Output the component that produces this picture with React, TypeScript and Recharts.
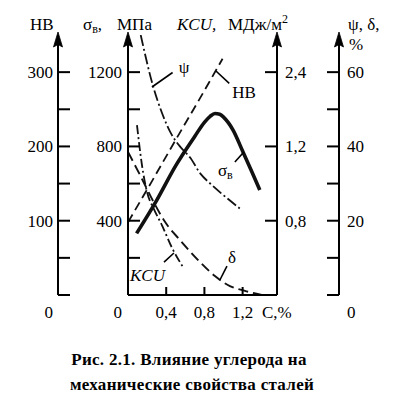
import React from 'react';
import { ComposedChart, Line, XAxis, YAxis, ReferenceLine, ReferenceDot } from 'recharts';

const FONT = '"Liberation Serif", "Times New Roman", Tinos, "DejaVu Serif", serif';

// ---- axis ticks ----
const C_TICKS = [0.4, 0.8, 1.2];
const C_TICK_LABELS = ['0,4', '0,8', '1,2'];
const HB_TICKS = [0, 50, 100, 150, 200, 250, 300];
const HB_TICK_LABELS = ['0', '', '100', '', '200', '', '300'];
const SIGMA_TICKS = [0, 200, 400, 600, 800, 1000, 1200];
const SIGMA_TICK_LABELS = ['0', '', '400', '', '800', '', '1200'];
const KCU_TICKS = [0.8, 1.6, 2.4];
const KCU_TICK_LABELS = ['0,8', '1,2', '2,4'];
const PSI_TICKS = [0, 10, 20, 30, 40, 50, 60];
const PSI_TICK_LABELS = ['0', '', '20', '', '40', '', '60'];

// ---- series ----
const HB_C = [0, 0.25, 0.5, 0.75, 0.99];
const HB_VALUES = [98, 153, 209, 264, 318];

const SIGMA_C = [0.09, 0.3, 0.5, 0.7, 0.8, 0.86, 0.91, 0.96, 1.0, 1.05, 1.1, 1.2, 1.3, 1.38];
const SIGMA_VALUES = [332, 510, 697, 855, 930, 962, 977, 973, 958, 928, 888, 775, 660, 565];

const PSI_C = [0.133, 0.265, 0.356, 0.45, 0.55, 0.65, 0.76, 0.87, 0.98, 1.17];
const PSI_VALUES = [70, 56, 49, 43.5, 39.8, 37, 32.6, 29.8, 27.3, 23.3];

const KCU_C = [0.094, 0.146, 0.199, 0.269, 0.356, 0.46, 0.582];
const KCU_VALUES = [1.83, 1.4, 1.11, 0.93, 0.75, 0.51, 0.29];

const DELTA_C = [0, 0.126, 0.269, 0.387, 0.544, 0.753, 0.91, 1.067, 1.224, 1.4];
const DELTA_VALUES = [38.5, 32.3, 25, 19.7, 14.8, 8.9, 5.1, 2.4, 1.1, 0];

const toData = (xs: number[], ys: number[]) => xs.map((c, i) => ({ c, v: ys[i] }));

// ---- annotations (data coordinates) ----
const LEADERS = [
  { axis: 'b_psi', from: [0.251, 56.0], to: [0.467, 59.9] },
  { axis: 'b_hb', from: [0.921, 301.5], to: [1.06, 284.9] },
  { axis: 'a_sigma', from: [1.119, 716], to: [1.213, 770] },
  { axis: 'a_kcu', from: [0.377, 0.355], to: [0.481, 0.452] },
  { axis: 'b_psi', from: [0.962, 4.04], to: [1.036, 7.8] },
];

const AXIS_LINE = { stroke: '#000', strokeWidth: 2 };

const arrowLabel = (side: 'left' | 'right') => (props: any) => {
  const vb = props.viewBox || {};
  const lx = side === 'left' ? vb.x + vb.width : vb.x;
  const y = vb.y;
  return (
    <path
      d={`M${lx} ${y - 3} L${lx + 4.5} ${y + 12} L${lx} ${y + 9.5} L${lx - 4.5} ${y + 12} Z`}
      fill="#000"
      stroke="#000"
      strokeWidth={0.8}
      strokeLinejoin="round"
    />
  );
};

const makeLeftTick = (ticks: number[], labels: string[], zeroTick: boolean, gap: number) => (props: any) => {
  const { x, y, payload } = props;
  const i = ticks.indexOf(payload.value);
  const label = i >= 0 ? labels[i] : '';
  const isZero = payload.value === 0;
  return (
    <g>
      {(!isZero || zeroTick) && <line x1={x} x2={x + 12} y1={y} y2={y} stroke="#000" strokeWidth={2} />}
      {label && (
        <text x={x - gap} y={isZero ? y + 23 : y + 6} textAnchor="end" fontSize={17} style={{ fontFamily: FONT }} fill="#000">
          {label}
        </text>
      )}
    </g>
  );
};

const makeRightTick = (ticks: number[], labels: string[]) => (props: any) => {
  const { x, y, payload } = props;
  const i = ticks.indexOf(payload.value);
  const label = i >= 0 ? labels[i] : '';
  const isZero = payload.value === 0;
  return (
    <g>
      <line x1={x - 12} x2={x} y1={y} y2={y} stroke="#000" strokeWidth={2} />
      {label && (
        <text x={x + 8} y={isZero ? y + 23 : y + 6} textAnchor="start" fontSize={17} style={{ fontFamily: FONT }} fill="#000">
          {label}
        </text>
      )}
    </g>
  );
};

const XTick = (props: any) => {
  const { x, y, payload } = props;
  const i = C_TICKS.indexOf(payload.value);
  const label = i >= 0 ? C_TICK_LABELS[i] : '';
  return (
    <g>
      <line x1={x} x2={x} y1={y} y2={y - 8} stroke="#000" strokeWidth={2} />
      <text x={x} y={y + 23} textAnchor="middle" fontSize={17} style={{ fontFamily: FONT }} fill="#000">
        {label}
      </text>
    </g>
  );
};

const textShape = (content: React.ReactNode, anchor: string, dy: number, italic = false) => (p: any) => (
  <text
    x={p.cx}
    y={p.cy + dy}
    textAnchor={anchor}
    fontSize={17}
    style={{ fontFamily: FONT, fontStyle: italic ? 'italic' : 'normal' }}
    fill="#000"
  >
    {content}
  </text>
);

export default function App() {
  return (
    <div style={{ position: 'absolute', left: 0, top: 0, width: 396, height: 410, background: '#fff', fontFamily: FONT }}>
      <ComposedChart width={396} height={330} margin={{ top: 35, right: 17, bottom: 5, left: 8 }}>
        <XAxis
          type="number"
          dataKey="c"
          domain={[0, 1.56]}
          ticks={C_TICKS}
          interval={0}
          allowDataOverflow
          height={30}
          tickSize={0}
          tickMargin={0}
          tickLine={false}
          axisLine={AXIS_LINE}
          tick={XTick}
        />
        <YAxis
          yAxisId="a_sigma"
          orientation="left"
          type="number"
          domain={[0, 1400]}
          ticks={SIGMA_TICKS}
          interval={0}
          allowDataOverflow
          width={70}
          tickSize={0}
          tickMargin={0}
          tickLine={false}
          axisLine={AXIS_LINE}
          tick={makeLeftTick(SIGMA_TICKS, SIGMA_TICK_LABELS, false, 6)}
          label={arrowLabel('left')}
        />
        <YAxis
          yAxisId="b_hb"
          orientation="left"
          type="number"
          domain={[0, 350]}
          ticks={HB_TICKS}
          interval={0}
          allowDataOverflow
          width={50}
          tickSize={0}
          tickMargin={0}
          tickLine={false}
          axisLine={AXIS_LINE}
          tick={makeLeftTick(HB_TICKS, HB_TICK_LABELS, true, 5)}
          label={arrowLabel('left')}
        />
        <YAxis
          yAxisId="a_kcu"
          orientation="right"
          type="number"
          domain={[0, 2.8]}
          ticks={KCU_TICKS}
          interval={0}
          allowDataOverflow
          width={62}
          tickSize={0}
          tickMargin={0}
          tickLine={false}
          axisLine={AXIS_LINE}
          tick={makeRightTick(KCU_TICKS, KCU_TICK_LABELS)}
          label={arrowLabel('right')}
        />
        <YAxis
          yAxisId="b_psi"
          orientation="right"
          type="number"
          domain={[0, 70]}
          ticks={PSI_TICKS}
          interval={0}
          allowDataOverflow
          width={40}
          tickSize={0}
          tickMargin={0}
          tickLine={false}
          axisLine={AXIS_LINE}
          tick={makeRightTick(PSI_TICKS, PSI_TICK_LABELS)}
          label={arrowLabel('right')}
        />

        <Line
          yAxisId="b_psi"
          data={toData(PSI_C, PSI_VALUES)}
          dataKey="v"
          type="monotone"
          stroke="#111"
          strokeWidth={1.8}
          strokeDasharray="11 3 2 3"
          dot={false}
          isAnimationActive={false}
        />
        <Line
          yAxisId="b_hb"
          data={toData(HB_C, HB_VALUES)}
          dataKey="v"
          type="linear"
          stroke="#111"
          strokeWidth={1.8}
          strokeDasharray="9 5"
          dot={false}
          isAnimationActive={false}
        />
        <Line
          yAxisId="a_sigma"
          data={toData(SIGMA_C, SIGMA_VALUES)}
          dataKey="v"
          type="monotone"
          stroke="#111"
          strokeWidth={3.6}
          dot={false}
          isAnimationActive={false}
        />
        <Line
          yAxisId="a_kcu"
          data={toData(KCU_C, KCU_VALUES)}
          dataKey="v"
          type="monotone"
          stroke="#111"
          strokeWidth={1.8}
          strokeDasharray="9 3 2 3"
          dot={false}
          isAnimationActive={false}
        />
        <Line
          yAxisId="b_psi"
          data={toData(DELTA_C, DELTA_VALUES)}
          dataKey="v"
          type="monotone"
          stroke="#111"
          strokeWidth={1.9}
          strokeDasharray="10 5"
          dot={false}
          isAnimationActive={false}
        />

        {LEADERS.map((l, i) => (
          <ReferenceLine
            key={'ld' + i}
            yAxisId={l.axis}
            segment={[
              { x: l.from[0], y: l.from[1] },
              { x: l.to[0], y: l.to[1] },
            ]}
            stroke="#000"
            strokeWidth={1.6}
            ifOverflow="visible"
          />
        ))}

        <ReferenceDot yAxisId="b_psi" x={0.586} y={61.4} r={1} ifOverflow="visible" shape={textShape('ψ', 'middle', 6)} />
        <ReferenceDot yAxisId="b_hb" x={1.214} y={273} r={1} ifOverflow="visible" shape={textShape('HB', 'middle', 6)} />
        <ReferenceDot
          yAxisId="a_sigma"
          x={0.941}
          y={641}
          r={1}
          ifOverflow="visible"
          shape={textShape(
            <>
              σ<tspan fontSize={12} dy={3}>в</tspan>
            </>,
            'start',
            0
          )}
        />
        <ReferenceDot yAxisId="a_kcu" x={0.021} y={0.15} r={1} ifOverflow="visible" shape={textShape('KCU', 'start', 0, true)} />
        <ReferenceDot yAxisId="b_psi" x={1.088} y={10.2} r={1} ifOverflow="visible" shape={textShape('δ', 'middle', 6)} />
      </ComposedChart>

      <svg
        width={396}
        height={410}
        style={{ position: 'absolute', left: 0, top: 0, pointerEvents: 'none', fontFamily: FONT }}
        fontSize={17}
        fill="#000"
      >
        <text x={30} y={30}>HB</text>
        <text x={83} y={30}>
          σ<tspan fontSize={12} dy={3}>в</tspan>
          <tspan dy={-3}>,</tspan>
        </text>
        <text x={117} y={30}>МПа</text>
        <text x={177} y={30} style={{ fontStyle: 'italic' }}>KCU,</text>
        <text x={228} y={30}>
          МДж/м<tspan fontSize={12} dy={-7}>2</tspan>
        </text>
        <text x={348} y={30}>ψ, δ,</text>
        <text x={349} y={50}>%</text>
        <text x={262} y={318}>C,%</text>
        <text x={189} y={365} textAnchor="middle" fontWeight="bold" fontSize={17} letterSpacing={0.3}>
          Рис. 2.1. Влияние углерода на
        </text>
        <text x={192} y={390} textAnchor="middle" fontWeight="bold" fontSize={17} letterSpacing={0.3}>
          механические свойства сталей
        </text>
      </svg>
    </div>
  );
}
